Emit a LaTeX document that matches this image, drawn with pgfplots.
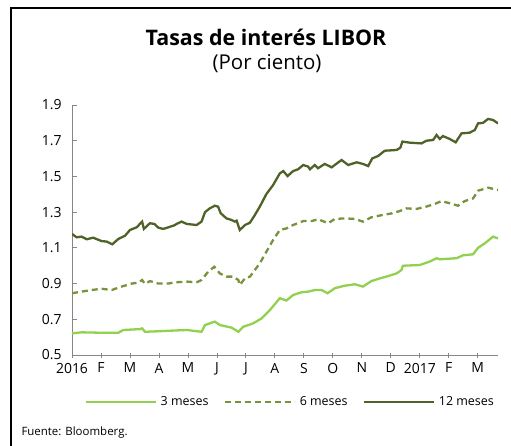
\documentclass[border=0pt]{standalone}
\usepackage{fontspec}
\setmainfont{Open Sans}
\usepackage{pgfplots}
\pgfplotsset{compat=1.18}
\definecolor{tres}{HTML}{92D050}
\definecolor{seis}{HTML}{77933C}
\definecolor{doce}{HTML}{4F6228}
\definecolor{axgray}{HTML}{868686}
\begin{document}
\begin{tikzpicture}[x=1bp,y=1bp]
\path[use as bounding box] (0,0) rectangle (511,-446);
\draw[line width=2.6bp] (11,-446) -- (11,-8) -- (511,-8);
\node[font=\bfseries\fontsize{21.5}{24}\selectfont] at (266,-37) {Tasas de interés LIBOR};
\node[font=\fontsize{20.5}{23}\selectfont] at (267,-64) {(Por ciento)};
\node[anchor=west, font=\fontsize{11.5}{13}\selectfont] at (18,-433) {Fuente: Bloomberg.};
\begin{axis}[
  at={(72bp,-355bp)}, anchor=origin,
  scale only axis, width=426bp, height=250bp,
  xmin=0, xmax=14.7, ymin=0.5, ymax=1.9,
  axis lines=left, axis line style={draw=axgray, line width=0.8bp, -},
  xtick={0,...,14},
  xticklabels={2016,F,M,A,M,J,J,A,S,O,N,D,2017,F,M},
  ytick={0.5,0.7,...,1.95},
  /pgf/number format/assume math mode=true,
  yticklabel style={xshift=-7bp, /pgf/number format/fixed, /pgf/number format/fixed zerofill, /pgf/number format/precision=1},
  tick style={draw=axgray, line width=0.8bp},
  xtick align=center, ytick align=inside,
  major tick length=5bp,
  tick label style={font=\fontsize{14}{16}\selectfont, text=black},
  xticklabel style={yshift=-2bp},
  legend columns=3,
  legend style={draw=none, fill=none, at={(0.512,-0.188)}, anchor=center,
    font=\fontsize{12.5}{14}\selectfont,
    /tikz/every even column/.append style={column sep=13bp},
    /tikz/every odd column/.append style={column sep=2bp}},
  legend image code/.code={\draw[#1] (0bp,0bp) -- (70bp,0bp);},
]
\addplot[tres, line width=2.3bp] coordinates {
(0,0.621) (0.33,0.627) (0.91,0.625) (1.60,0.625) (1.77,0.64) (2.34,0.645) (2.42,0.649) (2.52,0.63) (2.98,0.633) (3.38,0.636) (3.96,0.64) (4.47,0.63) (4.59,0.668) (4.93,0.687) (5.10,0.668) (5.51,0.653) (5.74,0.63) (5.91,0.658) (6.25,0.677) (6.54,0.705) (6.83,0.752) (7.17,0.818) (7.40,0.805) (7.63,0.836) (7.92,0.851) (8.15,0.855) (8.38,0.864) (8.61,0.864) (8.82,0.846) (9.07,0.874) (9.41,0.888) (9.76,0.896) (10.04,0.883) (10.33,0.914) (10.62,0.929) (10.85,0.939) (11.20,0.957) (11.37,0.976) (11.42,1.0) (12.00,1.004) (12.34,1.023) (12.58,1.042) (12.69,1.036) (13.27,1.042) (13.49,1.058) (13.84,1.064) (14.01,1.10) (14.24,1.125) (14.53,1.163) (14.70,1.153)
};
\addlegendentry{3 meses}
\addplot[seis, line width=2.3bp, dash pattern=on 6bp off 4bp] coordinates {
(0,0.846) (0.33,0.855) (0.68,0.864) (1.02,0.871) (1.37,0.864) (1.71,0.883) (2.06,0.90) (2.29,0.905) (2.42,0.92) (2.52,0.898) (2.69,0.914) (2.98,0.90) (3.32,0.90) (3.55,0.907) (3.98,0.911) (4.30,0.907) (4.47,0.92) (4.70,0.967) (4.91,0.994) (5.10,0.957) (5.33,0.939) (5.56,0.939) (5.74,0.92) (5.79,0.892) (5.97,0.93) (6.14,0.939) (6.31,0.976) (6.48,1.013) (6.71,1.079) (6.94,1.144) (7.17,1.20) (7.40,1.209) (7.63,1.228) (7.98,1.25) (8.27,1.25) (8.49,1.26) (8.84,1.238) (9.07,1.262) (9.41,1.265) (9.76,1.262) (10.04,1.247) (10.33,1.271) (10.65,1.282) (11.03,1.293) (11.31,1.306) (11.54,1.321) (11.89,1.318) (12.23,1.331) (12.58,1.35) (12.75,1.362) (13.03,1.35) (13.32,1.336) (13.55,1.362) (13.84,1.377) (14.01,1.42) (14.36,1.437) (14.70,1.424)
};
\addlegendentry{6 meses}
\addplot[doce, line width=2.3bp] coordinates {
(0,1.178) (0.16,1.159) (0.33,1.163) (0.51,1.148) (0.73,1.157) (1.02,1.138) (1.20,1.135) (1.39,1.12) (1.60,1.150) (1.83,1.168) (2.00,1.20) (2.23,1.215) (2.42,1.247) (2.48,1.206) (2.69,1.238) (2.84,1.234) (2.98,1.213) (3.15,1.206) (3.32,1.215) (3.53,1.226) (3.61,1.234) (3.78,1.247) (3.96,1.234) (4.30,1.228) (4.47,1.247) (4.59,1.30) (4.76,1.322) (4.93,1.336) (5.04,1.331) (5.13,1.294) (5.33,1.265) (5.51,1.256) (5.62,1.247) (5.68,1.252) (5.79,1.20) (5.97,1.228) (6.14,1.241) (6.31,1.284) (6.48,1.331) (6.71,1.402) (6.94,1.452) (7.17,1.517) (7.29,1.530) (7.44,1.502) (7.63,1.530) (7.80,1.540) (7.98,1.564) (8.15,1.555) (8.21,1.540) (8.38,1.564) (8.49,1.546) (8.72,1.570) (8.96,1.551) (9.30,1.592) (9.53,1.564) (9.82,1.579) (10.04,1.570) (10.22,1.558) (10.36,1.601) (10.56,1.614) (10.79,1.644) (11.20,1.648) (11.33,1.661) (11.40,1.695) (11.66,1.689) (12.06,1.685) (12.23,1.70) (12.46,1.704) (12.58,1.732) (12.69,1.71) (12.80,1.726) (13.03,1.71) (13.24,1.691) (13.44,1.741) (13.72,1.745) (13.90,1.76) (14.01,1.797) (14.18,1.80) (14.36,1.822) (14.53,1.816) (14.70,1.797)
};
\addlegendentry{12 meses}
\end{axis}
\end{tikzpicture}
\end{document}
